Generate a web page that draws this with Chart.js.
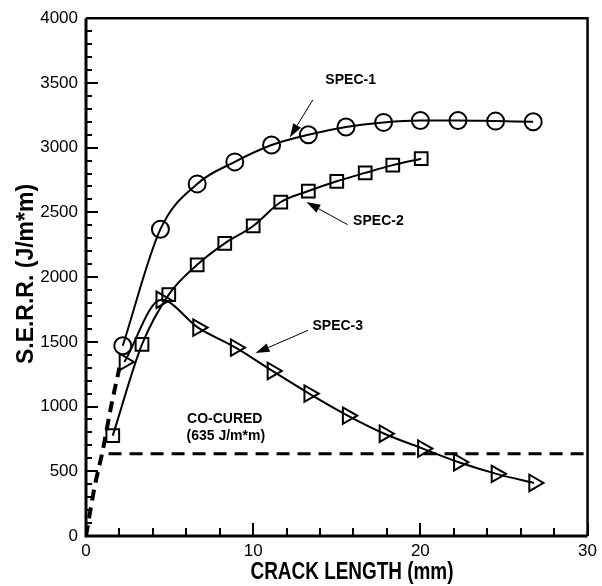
<!DOCTYPE html>
<html>
<head>
<meta charset="utf-8">
<script src="https://cdn.jsdelivr.net/npm/chart.js@4"></script>
<style>
  html, body { margin: 0; padding: 0; background: #fff; }
</style>
</head>
<body>
<canvas id="serrChart" width="602" height="586"></canvas>
<script>
// values: crack length (mm) vs S.E.R.R. (J/m*m)
const spec1X = [2.2, 4.45, 6.65, 8.9, 11.1, 13.3, 15.55, 17.8, 20.0, 22.25, 24.5, 26.75];
const spec1Y = [1470, 2370, 2720, 2890, 3020, 3100, 3160, 3195, 3210, 3210, 3205, 3200];

const spec2X = [1.6, 3.35, 4.95, 6.65, 8.3, 10.0, 11.65, 13.3, 15.0, 16.7, 18.35, 20.05];
const spec2Y = [775, 1480, 1865, 2095, 2260, 2395, 2580, 2665, 2740, 2805, 2865, 2915];

const spec3X = [2.3, 4.5, 6.7, 8.95, 11.15, 13.35, 15.65, 17.85, 20.15, 22.3, 24.55, 26.8];
const spec3Y = [1345, 1825, 1610, 1455, 1275, 1100, 930, 790, 675, 570, 480, 410];

// dashed start-up curve from the origin
const startX = [0, 0.5, 1.0, 1.5, 2.0];
const startY = [0, 370, 660, 1000, 1300];

// co-cured reference level
const coCuredX = [1.35, 30];
const coCuredY = [635, 635];

const xTicks = [0, 10, 20, 30];
const yTicks = [0, 500, 1000, 1500, 2000, 2500, 3000, 3500, 4000];

const xTitle = 'CRACK LENGTH (mm)';
const yTitle = 'S.E.R.R. (J/m*m)';

const pts = (xs, ys) => xs.map((x, i) => ({ x: x, y: ys[i] }));

const FONT = "'Liberation Sans', Arial, Helvetica, sans-serif";

// labels and arrows, in data units
const notes = [
    { text: 'SPEC-1', x: 15.83, y: 3524 },
    { text: 'SPEC-2', x: 17.49, y: 2434 },
    { text: 'SPEC-3', x: 15.06, y: 1620 },
    { text: 'CO-CURED', x: 8.3, y: 906 },
    { text: '(635 J/m*m)', x: 8.36, y: 768 }
];
const arrows = [
    { from: [13.57, 3370], to: [12.19, 3079] },
    { from: [15.65, 2405], to: [13.18, 2580] },
    { from: [13.28, 1589], to: [10.14, 1413] }
];

// draws a squeezed bold title so it fits the given width
function squeezedText(ctx, text, cx, baseY, size, width, rotate) {
    ctx.save();
    ctx.font = 'bold ' + size + 'px ' + FONT;
    const w = ctx.measureText(text).width;
    ctx.translate(cx, baseY);
    if (rotate) ctx.rotate(-Math.PI / 2);
    ctx.scale(Math.min(1, width / w), 1);
    ctx.textAlign = 'center';
    ctx.textBaseline = 'alphabetic';
    ctx.fillText(text, 0, 0);
    ctx.restore();
}

const framePlugin = {
    id: 'framePlugin',
    afterDatasetsDraw(chart) {
        const ctx = chart.ctx;
        const { left, right, top, bottom } = chart.chartArea;
        const xs = chart.scales.x, ys = chart.scales.y;
        ctx.save();
        ctx.strokeStyle = '#000';
        ctx.fillStyle = '#000';
        ctx.lineCap = 'butt';

        // ticks pointing into the plot
        ctx.lineWidth = 2;
        for (let v = 0; v <= 4000; v += 100) {
            const py = Math.round(ys.getPixelForValue(v));
            const len = v % 500 === 0 ? 12 : 6;
            ctx.beginPath();
            ctx.moveTo(left, py);
            ctx.lineTo(left + len, py);
            ctx.stroke();
        }
        for (let v = 0; v <= 30; v += 2) {
            const px = Math.round(xs.getPixelForValue(v));
            const len = v % 10 === 0 ? 13 : 8;
            ctx.beginPath();
            ctx.moveTo(px, bottom);
            ctx.lineTo(px, bottom - len);
            ctx.stroke();
        }

        // box
        ctx.lineWidth = 2.5;
        ctx.beginPath();
        ctx.moveTo(left, top);
        ctx.lineTo(right, top);
        ctx.lineTo(right, bottom);
        ctx.stroke();
        ctx.lineWidth = 3;
        ctx.beginPath();
        ctx.moveTo(left, top);
        ctx.lineTo(left, bottom);
        ctx.lineTo(right, bottom);
        ctx.stroke();

        // annotation text
        ctx.font = 'bold 14px ' + FONT;
        ctx.textAlign = 'center';
        ctx.textBaseline = 'middle';
        notes.forEach(n => {
            ctx.fillText(n.text, xs.getPixelForValue(n.x), ys.getPixelForValue(n.y));
        });

        // arrows
        ctx.lineWidth = 1;
        arrows.forEach(a => {
            const x1 = xs.getPixelForValue(a.from[0]), y1 = ys.getPixelForValue(a.from[1]);
            const x2 = xs.getPixelForValue(a.to[0]), y2 = ys.getPixelForValue(a.to[1]);
            const ang = Math.atan2(y2 - y1, x2 - x1);
            const hl = 14, hw = 4.5;
            const bx = x2 - hl * Math.cos(ang), by = y2 - hl * Math.sin(ang);
            ctx.beginPath();
            ctx.moveTo(x1, y1);
            ctx.lineTo(bx, by);
            ctx.stroke();
            ctx.beginPath();
            ctx.moveTo(x2, y2);
            ctx.lineTo(bx + hw * Math.sin(ang), by - hw * Math.cos(ang));
            ctx.lineTo(bx - hw * Math.sin(ang), by + hw * Math.cos(ang));
            ctx.closePath();
            ctx.fill();
        });

        // axis titles
        squeezedText(ctx, xTitle, 352, 579, 24, 203, false);
        squeezedText(ctx, yTitle, 33, 274, 23, 192, true);
        ctx.restore();
    }
};

const curve = {
    showLine: true,
    borderColor: '#000',
    borderWidth: 2,
    backgroundColor: 'rgba(0,0,0,0)',
    pointBorderColor: '#000',
    pointBorderWidth: 2,
    pointBackgroundColor: 'rgba(0,0,0,0)',
    cubicInterpolationMode: 'monotone'
};

new Chart(document.getElementById('serrChart').getContext('2d'), {
    type: 'scatter',
    data: {
        datasets: [
            Object.assign({}, curve, {
                label: 'SPEC-1',
                data: pts(spec1X, spec1Y),
                pointStyle: 'circle',
                pointRadius: 8.5
            }),
            Object.assign({}, curve, {
                label: 'SPEC-2',
                data: pts(spec2X, spec2Y),
                pointStyle: 'rect',
                pointRadius: 9
            }),
            Object.assign({}, curve, {
                label: 'SPEC-3',
                data: pts(spec3X, spec3Y),
                pointStyle: 'triangle',
                pointRotation: 90,
                pointRadius: 9.5
            }),
            Object.assign({}, curve, {
                label: 'start',
                data: pts(startX, startY),
                borderWidth: 4,
                borderDash: [11, 7],
                pointRadius: 0
            }),
            {
                label: 'co-cured',
                data: pts(coCuredX, coCuredY),
                showLine: true,
                borderColor: '#000',
                borderWidth: 3,
                borderDash: [13, 8],
                pointRadius: 0
            }
        ]
    },
    options: {
        responsive: false,
        animation: false,
        layout: { padding: { top: 15, right: 10, left: 0, bottom: 0 } },
        plugins: {
            legend: { display: false },
            tooltip: { enabled: false }
        },
        scales: {
            x: {
                type: 'linear',
                min: 0,
                max: 30,
                afterBuildTicks: s => { s.ticks = xTicks.map(v => ({ value: v })); },
                afterFit: s => { s.height = 50; },
                ticks: {
                    color: '#000', padding: 5, maxRotation: 0,
                    font: { family: FONT, size: 17 },
                    callback: v => String(v)
                },
                grid: { display: false, drawTicks: false },
                border: { display: false }
            },
            y: {
                type: 'linear',
                min: 0,
                max: 4000,
                afterBuildTicks: s => { s.ticks = yTicks.map(v => ({ value: v })); },
                afterFit: s => { s.width = 86; },
                ticks: {
                    color: '#000', padding: 8,
                    font: { family: FONT, size: 17 },
                    callback: v => String(v)
                },
                grid: { display: false, drawTicks: false },
                border: { display: false }
            }
        }
    },
    plugins: [framePlugin]
});
</script>
</body>
</html>
